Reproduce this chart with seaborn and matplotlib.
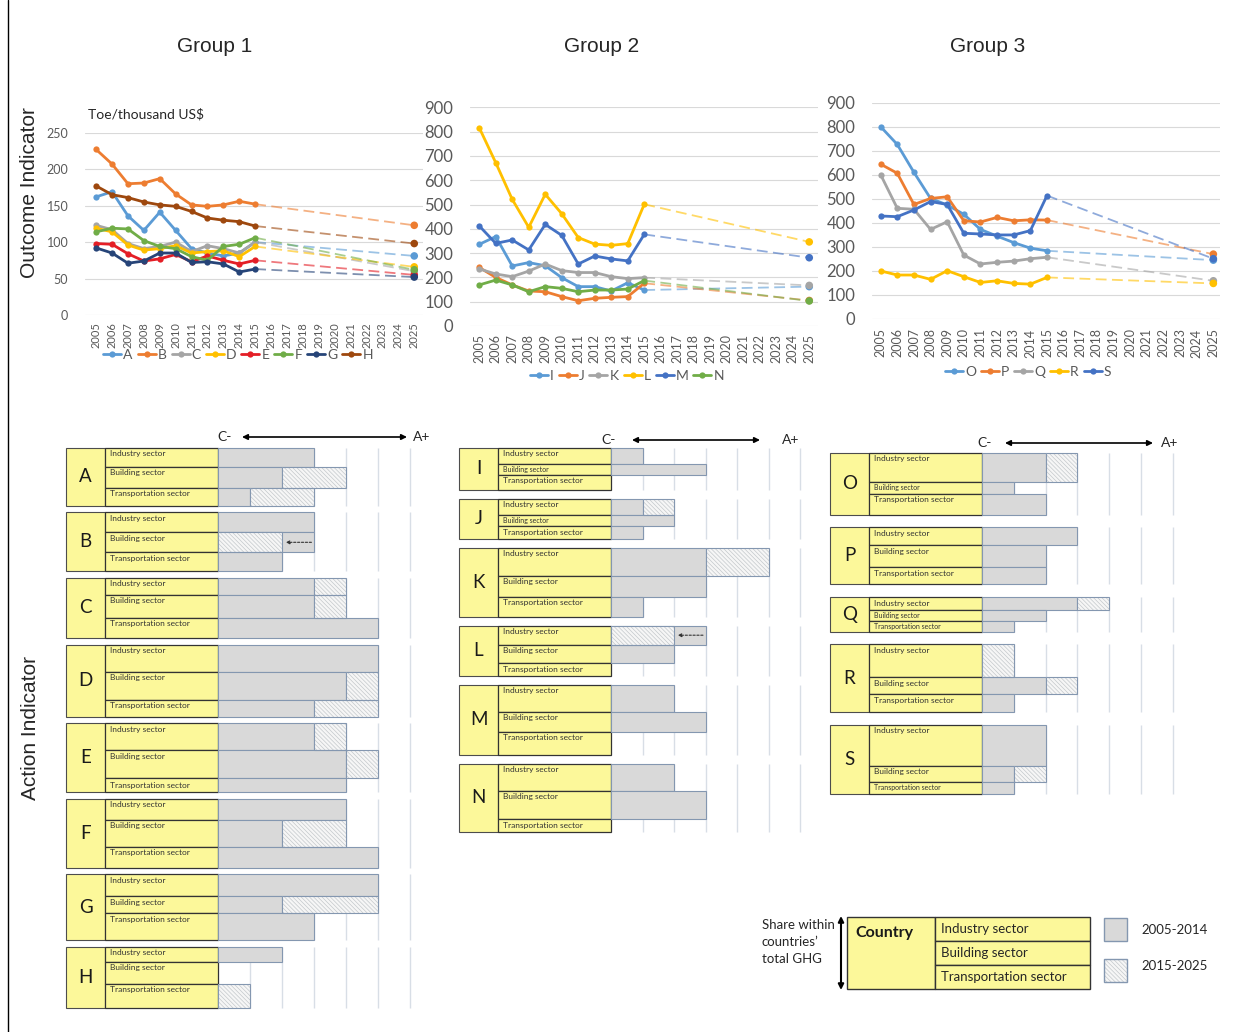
import matplotlib
matplotlib.use("Agg")
import matplotlib.pyplot as plt
import numpy as np
import pandas as pd
import seaborn as sns
from matplotlib.lines import Line2D
from matplotlib.patches import Rectangle

# ---------------------------------------------------------------- data
YEARS = list(range(2005, 2016))
PROJ_YEAR = 2025
ALL_YEARS = list(range(2005, 2026))

# Group 1 (toe / thousand US$)
G1_NAMES = ["A", "B", "C", "D", "E", "F", "G", "H"]
G1_A = [162, 169, 136, 116, 141, 116, 91, 85, 81, 85, 100]
G1_B = [227, 207, 180, 181, 187, 166, 151, 149, 151, 156, 152]
G1_C = [123, 117, 98, 91, 94, 100, 87, 95, 91, 85, 100]
G1_D = [119, 114, 96, 89, 91, 95, 85, 87, 88, 80, 94]
G1_E = [98, 97, 84, 74, 77, 83, 73, 81, 75, 70, 75]
G1_F = [114, 119, 118, 102, 94, 91, 80, 75, 94, 97, 106]
G1_G = [92, 85, 71, 74, 85, 85, 72, 73, 70, 59, 63]
G1_H = [177, 165, 161, 155, 151, 149, 142, 133, 130, 128, 122]
G1_2025 = [81, 123, 60, 66, 55, 62, 52, 98]
G1_COLORS = ["#5B9BD5", "#ED7D31", "#A5A5A5", "#FFC000", "#E41E26",
             "#70AD47", "#264478", "#9E480E"]

# Group 2
G2_NAMES = ["I", "J", "K", "L", "M", "N"]
G2_I = [336, 368, 247, 261, 248, 199, 162, 162, 144, 178, 148]
G2_J = [241, 200, 169, 144, 141, 121, 104, 114, 118, 121, 176]
G2_K = [235, 214, 203, 226, 255, 228, 220, 220, 203, 195, 199]
G2_L = [816, 672, 521, 406, 542, 462, 364, 337, 332, 339, 501]
G2_M = [412, 340, 354, 313, 418, 373, 255, 288, 276, 268, 377]
G2_N = [169, 189, 169, 141, 162, 155, 141, 148, 148, 152, 187]
G2_2025 = [162, 105, 167, 346, 281, 103]
G2_COLORS = ["#5B9BD5", "#ED7D31", "#A5A5A5", "#FFC000", "#4472C4", "#70AD47"]

# Group 3
G3_NAMES = ["O", "P", "Q", "R", "S"]
G3_O = [800, 726, 610, 501, 474, 435, 372, 344, 317, 294, 283]
G3_P = [644, 606, 476, 501, 508, 408, 403, 422, 408, 412, 411]
G3_Q = [600, 460, 456, 372, 404, 265, 228, 235, 240, 250, 256]
G3_R = [199, 182, 182, 164, 200, 175, 151, 158, 147, 144, 172]
G3_S = [428, 425, 453, 488, 476, 356, 353, 349, 349, 367, 513]
G3_2025 = [244, 269, 158, 147, 250]
G3_COLORS = ["#5B9BD5", "#ED7D31", "#A5A5A5", "#FFC000", "#4472C4"]

# Action indicator: sector shares of total GHG and score levels (0 = C-)
SECTORS = ["Industry sector", "Building sector", "Transportation sector"]

A1_COUNTRIES = ["A", "B", "C", "D", "E", "F", "G", "H"]
A1_SHARE_IND = [19, 20, 17, 27, 27, 21, 22, 15]
A1_SHARE_BLD = [21, 20, 23, 28, 28, 27, 17, 22]
A1_SHARE_TRN = [18, 19, 20, 17, 14, 21, 27, 24]
A1_IND_0514 = [3, 3, 3, 5, 3, 4, 5, 2]
A1_IND_1525 = [3, 3, 4, 5, 4, 4, 5, 2]
A1_BLD_0514 = [2, 3, 3, 4, 4, 2, 2, 0]
A1_BLD_1525 = [4, 2, 4, 5, 5, 4, 5, 0]
A1_TRN_0514 = [1, 2, 5, 3, 4, 5, 3, 0]
A1_TRN_1525 = [3, 2, 5, 5, 4, 5, 3, 1]

A2_COUNTRIES = ["I", "J", "K", "L", "M", "N"]
A2_SHARE_IND = [16, 16, 28, 19, 27, 27]
A2_SHARE_BLD = [11, 11, 21, 18, 20, 28]
A2_SHARE_TRN = [15, 13, 20, 13, 23, 13]
A2_IND_0514 = [1, 1, 3, 3, 2, 2]
A2_IND_1525 = [1, 2, 5, 2, 2, 2]
A2_BLD_0514 = [3, 2, 3, 2, 3, 3]
A2_BLD_1525 = [3, 2, 3, 2, 3, 3]
A2_TRN_0514 = [0, 1, 1, 0, 0, 0]
A2_TRN_1525 = [0, 1, 1, 0, 0, 0]

A3_COUNTRIES = ["O", "P", "Q", "R", "S"]
A3_SHARE_IND = [29, 18, 13, 33, 41]
A3_SHARE_BLD = [12, 22, 11, 17, 16]
A3_SHARE_TRN = [21, 17, 11, 18, 12]
A3_IND_0514 = [2, 3, 3, 0, 2]
A3_IND_1525 = [3, 3, 4, 1, 2]
A3_BLD_0514 = [1, 2, 2, 2, 1]
A3_BLD_1525 = [1, 2, 2, 3, 2]
A3_TRN_0514 = [2, 2, 1, 1, 1]
A3_TRN_1525 = [2, 2, 1, 1, 1]

# ---------------------------------------------------------------- style
sns.set_theme(style="white")
plt.rcParams["font.family"] = ["Lato", "DejaVu Sans"]
plt.rcParams["hatch.linewidth"] = 0.5

W, H = 1238, 1032
fig = plt.figure(figsize=(W / 100, H / 100), dpi=100)
fig.patch.set_facecolor("white")

YELLOW = "#FCF89A"
BAR_GRAY = "#D9D9D9"
BAR_EDGE = "#8497B0"
HATCH_FACE = "#F6F6F6"
HATCH_LINE = "#C4C8CC"
HATCH = "\\" * 8
GRID_V = "#D8DEE6"
TICK_GRAY = "#595959"
ARIAL = ["Liberation Sans", "DejaVu Sans"]


def px_axes(x0, y0, x1, y1, **kw):
    return fig.add_axes([x0 / W, 1 - y1 / H, (x1 - x0) / W, (y1 - y0) / H], **kw)


# canvas in pixel units for frame, headings and key
canvas = px_axes(0, 0, W, H)
canvas.set_xlim(0, W)
canvas.set_ylim(H, 0)
canvas.set_axis_off()
canvas.plot([8, 8], [0, H], color="black", lw=1)

for cx, t in [(215, "Group 1"), (602, "Group 2"), (988, "Group 3")]:
    canvas.text(cx, 47, t, ha="center", va="center", fontsize=15, family=ARIAL)
canvas.text(30, 193, "Outcome Indicator", rotation=90, ha="center", va="center",
            fontsize=15, family=ARIAL)
canvas.text(30, 728, "Action Indicator", rotation=90, ha="center", va="center",
            fontsize=15, family=ARIAL)


# ---------------------------------------------------------------- line charts
def line_panel(rect, names, series, proj, colors, ymax, ystep, xlim,
               ytick_size, xtick_size, legend_xy, xpad):
    ax = px_axes(*rect)
    ax.set_facecolor("none")
    pal = dict(zip(names, colors))
    rows = [(n, yr, v) for n, vals in zip(names, series) for yr, v in zip(YEARS, vals)]
    df = pd.DataFrame(rows, columns=["country", "year", "value"])
    prow = []
    for n, vals, p in zip(names, series, proj):
        prow += [(n, YEARS[-1], vals[-1]), (n, PROJ_YEAR, p)]
    dfp = pd.DataFrame(prow, columns=["country", "year", "value"])

    sns.lineplot(data=dfp, x="year", y="value", hue="country", hue_order=names,
                 palette=pal, linewidth=1.3, linestyle=(0, (6, 3)), alpha=0.6,
                 errorbar=None, legend=False, ax=ax)
    sns.lineplot(data=df, x="year", y="value", hue="country", hue_order=names,
                 palette=pal, linewidth=2, marker="o", markersize=4.5,
                 markeredgewidth=0, errorbar=None, legend=False, ax=ax)
    end = dfp[dfp["year"] == PROJ_YEAR]
    sns.scatterplot(data=end, x="year", y="value", hue="country", hue_order=names,
                    palette=pal, s=30, linewidth=0, legend=False, ax=ax, zorder=4)

    ax.set_xlim(*xlim)
    ax.set_ylim(0, ymax)
    ax.set_yticks(np.arange(0, ymax + 1, ystep))
    ax.set_xticks(ALL_YEARS)
    ax.set_xticklabels([str(y) for y in ALL_YEARS], rotation=90)
    ax.tick_params(axis="y", labelsize=ytick_size, colors=TICK_GRAY, length=0, pad=12)
    ax.tick_params(axis="x", labelsize=xtick_size, colors=TICK_GRAY, length=0, pad=xpad)
    ax.yaxis.grid(True, color="#D9D9D9", lw=0.8)
    ax.xaxis.grid(False)
    ax.set_axisbelow(True)
    for s in ax.spines.values():
        s.set_visible(False)
    ax.set_xlabel("")
    ax.set_ylabel("")

    handles = [Line2D([0], [0], color=c, lw=2, marker="o", markersize=4.5,
                      markeredgewidth=0) for c in colors]
    fig.legend(handles, names, loc="center",
               bbox_to_anchor=(legend_xy[0] / W, 1 - legend_xy[1] / H),
               ncol=len(names), frameon=False, fontsize=10, labelcolor=TICK_GRAY,
               handlelength=1.3, handletextpad=0.15, columnspacing=0.35)
    return ax


ax1 = line_panel((85, 132.7, 423, 315), G1_NAMES,
                 [G1_A, G1_B, G1_C, G1_D, G1_E, G1_F, G1_G, G1_H], G1_2025,
                 G1_COLORS, 250, 50, (2004.3, 2025.55), 9, 8, (238, 355), 5)
ax1.text(0.01, 1.1, "Toe/thousand US$", transform=ax1.transAxes, fontsize=10,
         color="#262626", va="center", ha="left")

line_panel((470, 107.3, 818, 326), G2_NAMES,
           [G2_I, G2_J, G2_K, G2_L, G2_M, G2_N], G2_2025,
           G2_COLORS, 900, 100, (2004.44, 2025.53), 12, 9, (627, 376), 6)

line_panel((872, 102.7, 1220, 318.7), G3_NAMES,
           [G3_O, G3_P, G3_Q, G3_R, G3_S], G3_2025,
           G3_COLORS, 900, 100, (2004.48, 2025.4), 12, 9, (1028, 372), 7)


# ---------------------------------------------------------------- action indicator
def hatched_bar(ax, cy, width, left, h):
    ax.barh(cy, width, left=left, height=h, color=HATCH_FACE, edgecolor=HATCH_LINE,
            hatch=HATCH, linewidth=0, zorder=3)
    ax.barh(cy, width, left=left, height=h, fill=False, edgecolor=BAR_EDGE,
            linewidth=0.8, zorder=4)


def action_column(countries, shares, lv0514, lv1525, box_left, sep_x, start,
                  step, top, gap, header):
    y_top, y_bot = 425, 1015
    x_right = start + 6.8 * step
    ax = px_axes(box_left - 4, y_top, x_right, y_bot)

    def lv(px):
        return (px - start) / step

    ax.set_xlim(lv(box_left - 4), 6.8)
    ax.set_ylim(y_bot, y_top)
    ax.set_axis_off()

    # scale header
    hy, c_px, a0, a1, a_px = header
    ax.text(lv(c_px), hy, "C-", ha="center", va="center", fontsize=10)
    ax.text(lv(a_px), hy, "A+", ha="center", va="center", fontsize=10)
    ax.annotate("", xy=(lv(a1), hy), xytext=(lv(a0), hy),
                arrowprops=dict(arrowstyle="<|-|>", color="black", lw=1.2,
                                mutation_scale=8, shrinkA=0, shrinkB=0))

    y = top
    for i, c in enumerate(countries):
        hs = [shares[k][i] for k in range(3)]
        total = sum(hs)
        ax.vlines(np.arange(1, 7), y, y + total, colors=GRID_V, lw=1, zorder=1)
        ax.add_patch(Rectangle((lv(box_left), y), lv(sep_x) - lv(box_left), total,
                               facecolor=YELLOW, edgecolor="#4D4D4D", lw=0.8, zorder=2))
        ax.text((lv(box_left) + lv(sep_x)) / 2, y + total / 2, c, ha="center",
                va="center", fontsize=13.5, color="#1A1A1A", zorder=5)
        ry = y
        for k in range(3):
            h = hs[k]
            ax.add_patch(Rectangle((lv(sep_x), ry), -lv(sep_x), h, facecolor=YELLOW,
                                   edgecolor="#333333", lw=0.9, zorder=2))
            fs = 6 if h >= 13 else 5
            if h >= 15:
                ax.text(lv(sep_x + 5), ry + 2.5, SECTORS[k], ha="left", va="top",
                        fontsize=fs, color="#333333", zorder=5)
            else:
                ax.text(lv(sep_x + 5), ry + h / 2, SECTORS[k], ha="left",
                        va="center", fontsize=fs, color="#333333", zorder=5)
            a, b = lv0514[k][i], lv1525[k][i]
            cy = ry + h / 2
            if a > 0:
                ax.barh(cy, a, left=0, height=h, color=BAR_GRAY, edgecolor=BAR_EDGE,
                        linewidth=0.8, zorder=3)
            if b > a:
                hatched_bar(ax, cy, b - a, a, h)
            elif b < a:
                hatched_bar(ax, cy, b, 0, h)
                ax.annotate("", xy=(b + 0.12, cy), xytext=(a - 0.08, cy),
                            arrowprops=dict(arrowstyle="-|>", color="#333333",
                                            lw=0.8, linestyle=(0, (2, 1.5)),
                                            mutation_scale=5, shrinkA=0, shrinkB=0),
                            zorder=6)
            ry += h
        y += total + gap
    return ax


action_column(A1_COUNTRIES, [A1_SHARE_IND, A1_SHARE_BLD, A1_SHARE_TRN],
              [A1_IND_0514, A1_BLD_0514, A1_TRN_0514],
              [A1_IND_1525, A1_BLD_1525, A1_TRN_1525],
              66, 105, 218, 32, 447.7, 6.6, (437, 225, 242, 407, 422))

action_column(A2_COUNTRIES, [A2_SHARE_IND, A2_SHARE_BLD, A2_SHARE_TRN],
              [A2_IND_0514, A2_BLD_0514, A2_TRN_0514],
              [A2_IND_1525, A2_BLD_1525, A2_TRN_1525],
              459, 498, 611, 31.5, 447.7, 9, (440, 609, 632, 760, 791))

action_column(A3_COUNTRIES, [A3_SHARE_IND, A3_SHARE_BLD, A3_SHARE_TRN],
              [A3_IND_0514, A3_BLD_0514, A3_TRN_0514],
              [A3_IND_1525, A3_BLD_1525, A3_TRN_1525],
              830, 869, 982, 31.8, 452.7, 12.5, (443, 985, 1005, 1153, 1170))

# ---------------------------------------------------------------- key
for j, t in enumerate(["Share within", "countries\u2019", "total GHG"]):
    canvas.text(762, 925 + 17 * j, t, ha="left", va="center", fontsize=9.5,
                color="#262626")
canvas.annotate("", xy=(841, 990), xytext=(841, 916),
                arrowprops=dict(arrowstyle="<|-|>", color="black", lw=1.5,
                                mutation_scale=8, shrinkA=0, shrinkB=0))
canvas.add_patch(Rectangle((847, 917), 88, 72, facecolor=YELLOW,
                           edgecolor="#333333", lw=1))
canvas.text(855, 933, "Country", ha="left", va="center", fontsize=11.5,
            fontweight="bold", color="#1A1A1A")
for k, s in enumerate(SECTORS):
    canvas.add_patch(Rectangle((935, 917 + 24 * k), 155, 24, facecolor=YELLOW,
                               edgecolor="#333333", lw=1))
    canvas.text(941, 929 + 24 * k, s, ha="left", va="center", fontsize=9.5,
                color="#262626")
canvas.add_patch(Rectangle((1104, 918), 23, 23, facecolor=BAR_GRAY,
                           edgecolor=BAR_EDGE, lw=1))
canvas.add_patch(Rectangle((1104, 959), 23, 23, facecolor=HATCH_FACE,
                           edgecolor=HATCH_LINE, hatch=HATCH, lw=0))
canvas.add_patch(Rectangle((1104, 959), 23, 23, fill=False, edgecolor=BAR_EDGE, lw=1))
canvas.text(1141, 930, "2005-2014", ha="left", va="center", fontsize=9.5,
            color="#262626")
canvas.text(1141, 966, "2015-2025", ha="left", va="center", fontsize=9.5,
            color="#262626")

fig.savefig("out.png", dpi=100)
